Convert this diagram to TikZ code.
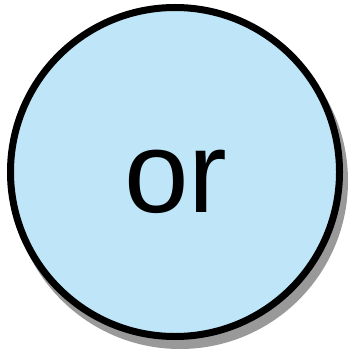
\documentclass[tikz,border=0pt]{standalone}
\usepackage{fontspec}
\setmainfont{Liberation Sans}
\usetikzlibrary{positioning}
\definecolor{orfill}{RGB}{190,230,248}
\definecolor{orshadow}{RGB}{153,153,153}

\begin{document}
\begin{tikzpicture}[x=1pt, y=1pt, line width=7pt]
  \useasboundingbox (0,0) rectangle (352,351);
  \fill[orshadow] (180,170) circle (168pt);
  \node[circle, draw, fill=orfill, minimum size=329pt, inner sep=0pt] (orgate) at (175,179) {};
  \node[anchor=base, inner sep=0pt, font=\fontsize{116}{116}\selectfont] (orlabel) at ([xshift=1pt,yshift=-40pt]orgate.center) {or};
\end{tikzpicture}
\end{document}
